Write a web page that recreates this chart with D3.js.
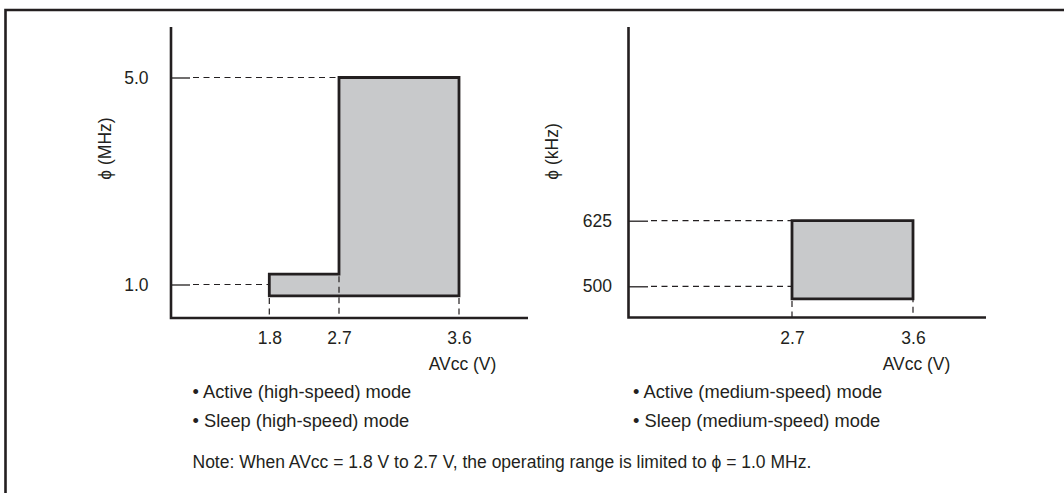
<!DOCTYPE html>
<html>
<head>
<meta charset="utf-8">
<script src="https://cdn.jsdelivr.net/npm/d3@7/dist/d3.min.js"></script>
<style>
  html, body { margin: 0; padding: 0; background: #fff; }
  svg { display: block; }
  text { font-family: "Liberation Sans", Arial, Helvetica, sans-serif; fill: #231f20; }
</style>
</head>
<body>
<svg id="chart" width="1064" height="493"></svg>
<script>
// ---------- data ----------
// Left chart: high-speed mode (phi in MHz vs AVcc in V)
const hsVoltTicks = [1.8, 2.7, 3.6];
const hsFreqTicks = [1.0, 5.0];
// operating-range outline (schematic), voltage / frequency pairs
const hsOutlineVolt = [1.8, 1.8, 2.7, 2.7, 3.6, 3.6];
const hsOutlineFreq = [0.78, 1.2, 1.2, 5.0, 5.0, 0.78];
// guide lines: horizontal from axis to voltage, vertical from freq down to axis
const hsGuideFreq = [5.0, 1.0];
const hsGuideToVolt = [2.7, 1.8];
const hsVGuideVolt = [1.8, 2.7, 3.6];
const hsVGuideFrom = [0.78, 1.2, 0.78];

// Right chart: medium-speed mode (phi in kHz vs AVcc in V)
const msVoltTicks = [2.7, 3.6];
const msFreqTicks = [500, 625];
const msOutlineVolt = [2.7, 2.7, 3.6, 3.6];
const msOutlineFreq = [476, 625, 625, 476];
const msGuideFreq = [625, 500];
const msGuideToVolt = [2.7, 2.7];
const msVGuideVolt = [2.7, 3.6];
const msVGuideFrom = [476, 625];

const leftNotes = ["• Active (high-speed) mode", "• Sleep (high-speed) mode"];
const rightNotes = ["• Active (medium-speed) mode", "• Sleep (medium-speed) mode"];
const noteText = "Note: When AVcc = 1.8 V to 2.7 V, the operating range is limited to \u03D5 = 1.0 MHz.";

// ---------- layout ----------
const INK = "#231f20";
const FILL = "#c8c9cb";
const DASH = "6,4.5";
const FS = 17.5;
const FS_BULLET = 18.3;

const svg = d3.select("#chart");

// frame (top and left edges visible)
svg.append("path")
  .attr("d", "M5.5,493 L5.5,10 L1064,10")
  .attr("fill", "none").attr("stroke", INK).attr("stroke-width", 2.6);

function panel(cfg) {
  const g = svg.append("g");
  const x = cfg.x, y = cfg.y;
  const axX = cfg.axisX, axY = cfg.axisY;

  // shaded operating range
  const pts = cfg.outVolt.map((v, i) => [x(v), y(cfg.outFreq[i])]);
  g.append("path")
    .attr("d", d3.line()(pts) + "Z")
    .attr("fill", FILL)
    .attr("stroke", INK).attr("stroke-width", 2.8)
    .attr("stroke-linejoin", "miter");

  // horizontal dashed guides
  cfg.gFreq.forEach((f, i) => {
    g.append("line")
      .attr("x1", axX + cfg.stub + 3).attr("x2", x(cfg.gTo[i]))
      .attr("y1", y(f)).attr("y2", y(f))
      .attr("stroke", INK).attr("stroke-width", 1.2).attr("stroke-dasharray", DASH);
  });
  // vertical dashed guides
  cfg.vVolt.forEach((v, i) => {
    g.append("line")
      .attr("x1", x(v)).attr("x2", x(v))
      .attr("y1", y(cfg.vFrom[i]) + 2).attr("y2", axY)
      .attr("stroke", INK).attr("stroke-width", 1.2).attr("stroke-dasharray", DASH);
  });

  // y axis (ticks & labels)
  const ya = g.append("g").attr("transform", `translate(${axX},0)`)
    .call(d3.axisLeft(y).tickValues(cfg.yTicks).tickSize(-cfg.stub)
      .tickPadding(cfg.yPad).tickFormat(cfg.yFmt));
  ya.select(".domain").remove();
  ya.selectAll(".tick line").attr("stroke", INK).attr("stroke-width", 1.3);
  ya.selectAll(".tick text").attr("font-size", FS).attr("fill", INK)
    .attr("font-family", '"Liberation Sans", Arial, sans-serif');

  // x axis labels
  const xa = g.append("g").attr("transform", `translate(0,${axY})`)
    .call(d3.axisBottom(x).tickValues(cfg.xTicks).tickSize(0).tickPadding(13.7)
      .tickFormat(d3.format(".1f")));
  xa.select(".domain").remove();
  xa.selectAll(".tick text").attr("font-size", FS).attr("fill", INK)
    .attr("font-family", '"Liberation Sans", Arial, sans-serif');

  // axis lines
  g.append("path")
    .attr("d", `M${axX},${cfg.axisTop} L${axX},${axY} L${cfg.axisRight},${axY}`)
    .attr("fill", "none").attr("stroke", INK).attr("stroke-width", 2.6)
    .attr("stroke-linejoin", "miter");

  // axis titles
  g.append("text")
    .attr("transform", `translate(${cfg.yTitleX},${cfg.yTitleY}) rotate(-90)`)
    .attr("text-anchor", "middle").attr("dy", "0.35em")
    .attr("font-size", FS).text(cfg.yTitle);
  g.append("text")
    .attr("x", x(cfg.xTicks[cfg.xTicks.length - 1]) + 3.5).attr("y", 369.5)
    .attr("text-anchor", "middle").attr("font-size", FS).text("AVcc (V)");

  // notes
  cfg.notes.forEach((t, i) => {
    g.append("text").attr("x", cfg.noteX).attr("y", 398 + i * 28.6)
      .attr("font-size", FS_BULLET).text(t);
  });
}

// Left panel scales (schematic, piecewise voltage axis)
const xL = d3.scaleLinear().domain(hsVoltTicks).range([269.3, 339, 459]);
const yL = d3.scaleLinear().domain(hsFreqTicks).range([284.5, 77.5]);
panel({
  x: xL, y: yL, axisX: 171, axisY: 318, axisTop: 27, axisRight: 528,
  stub: 19, yPad: 22.5, yTicks: hsFreqTicks, yFmt: d3.format(".1f"),
  xTicks: hsVoltTicks,
  outVolt: hsOutlineVolt, outFreq: hsOutlineFreq,
  gFreq: hsGuideFreq, gTo: hsGuideToVolt,
  vVolt: hsVGuideVolt, vFrom: hsVGuideFrom,
  yTitle: "\u03D5 (MHz)", yTitleX: 105, yTitleY: 148.5,
  notes: leftNotes, noteX: 192.5
});

// Right panel scales
const xR = d3.scaleLinear().domain(msVoltTicks).range([792, 913]);
const yR = d3.scaleLinear().domain(msFreqTicks).range([286.3, 220.7]);
panel({
  x: xR, y: yR, axisX: 628.5, axisY: 317.5, axisTop: 27, axisRight: 986,
  stub: 19.5, yPad: 16.5, yTicks: msFreqTicks, yFmt: d3.format("d"),
  xTicks: msVoltTicks,
  outVolt: msOutlineVolt, outFreq: msOutlineFreq,
  gFreq: msGuideFreq, gTo: msGuideToVolt,
  vVolt: msVGuideVolt, vFrom: msVGuideFrom,
  yTitle: "\u03D5 (kHz)", yTitleX: 551.7, yTitleY: 151.5,
  notes: rightNotes, noteX: 633
});

// footnote
svg.append("text").attr("x", 192.5).attr("y", 467.5)
  .attr("font-size", FS).text(noteText);
</script>
</body>
</html>
